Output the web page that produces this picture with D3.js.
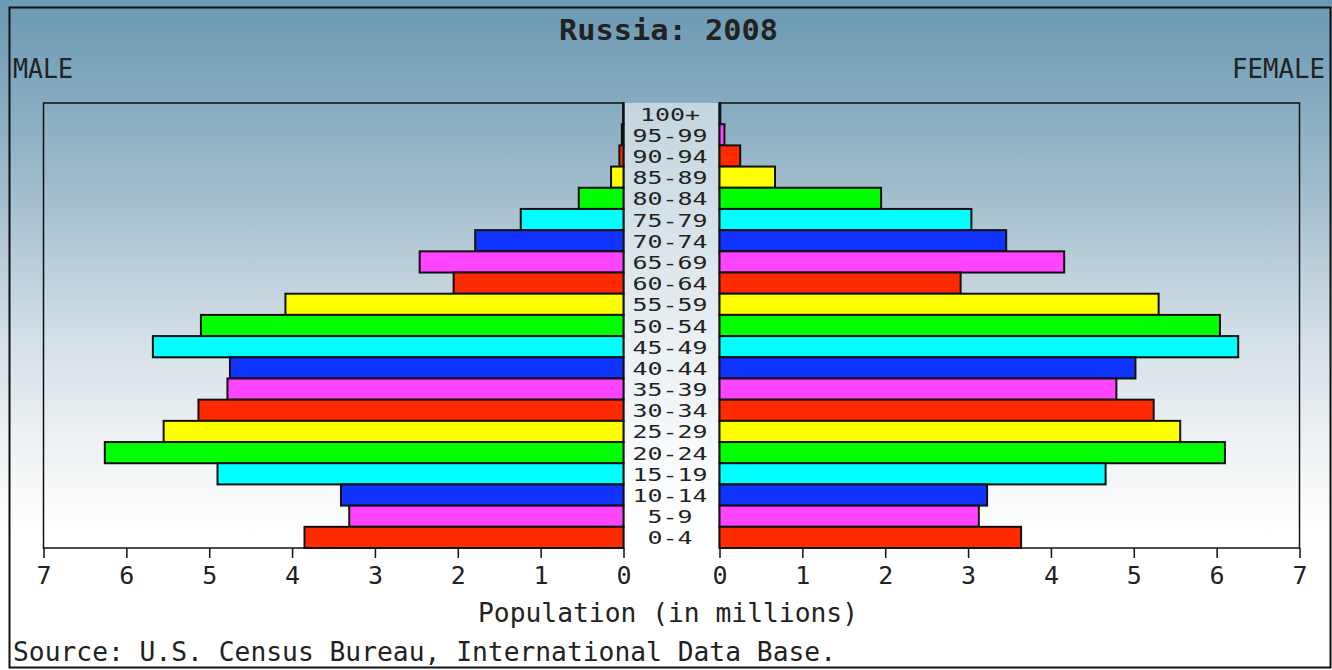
<!DOCTYPE html>
<html>
<head>
<meta charset="utf-8">
<script src="https://cdn.jsdelivr.net/npm/d3@7"></script>
<style>
  html, body { margin: 0; padding: 0; background: #fff; }
  svg { display: block; }
  text { font-family: "DejaVu Sans Mono", "Liberation Mono", monospace; fill: #222; }
</style>
</head>
<body>
<svg id="chart" width="1332" height="670"></svg>
<script>
// ---- data (top to bottom) ----
const ageGroups = ["100+","95-99","90-94","85-89","80-84","75-79","70-74","65-69","60-64","55-59",
  "50-54","45-49","40-44","35-39","30-34","25-29","20-24","15-19","10-14","5-9","0-4"];
const maleValues = [0.005,0.02,0.05,0.15,0.54,1.24,1.79,2.46,2.05,4.08,
  5.10,5.68,4.75,4.78,5.13,5.55,6.26,4.90,3.41,3.31,3.85];
const femaleValues = [0.01,0.06,0.25,0.67,1.95,3.04,3.46,4.16,2.91,5.30,
  6.04,6.26,5.02,4.79,5.24,5.56,6.10,4.66,3.23,3.13,3.64];
const barColors = ["#1133ff","#ff44ff","#ff2a00","#ffff00","#00ff00","#00ffff"]; // cycles from top
const tickValues = [0,1,2,3,4,5,6,7];
const titleText = "Russia: 2008";
const xAxisLabel = "Population (in millions)";
const sourceText = "Source: U.S. Census Bureau, International Data Base.";

const svg = d3.select("#chart");
const W = 1332, H = 670;

// background gradient
const defs = svg.append("defs");
const grad = defs.append("linearGradient").attr("id","bg").attr("x1",0).attr("y1",0).attr("x2",0).attr("y2",1);
[[0,"#6b99b3"],[0.12,"#7fa7bd"],[0.3,"#a5bfce"],[0.5,"#d3dfe6"],[0.68,"#f1f4f6"],[0.8,"#ffffff"],[1,"#ffffff"]]
  .forEach(([o,c]) => grad.append("stop").attr("offset",o).attr("stop-color",c));
svg.append("rect").attr("width",W).attr("height",H).attr("fill","url(#bg)");

// outer border
svg.append("rect").attr("x",9.5).attr("y",7.5).attr("width",1321).attr("height",660)
  .attr("fill","none").attr("stroke","#111").attr("stroke-width",2);

const plotTop = 103, plotBottom = 548;
const xL = d3.scaleLinear().domain([0,7]).range([623.5, 43.5]);
const xR = d3.scaleLinear().domain([0,7]).range([719.5, 1299.5]);
const y = d3.scaleBand().domain(ageGroups).range([plotTop, plotBottom]).padding(0);

// lighter centre column
svg.append("rect").attr("x",625).attr("y",plotTop).attr("width",93).attr("height",plotBottom-plotTop)
  .attr("fill","#ffffff").attr("opacity",0.5);

// frames
svg.append("rect").attr("x",xL(7)).attr("y",plotTop).attr("width",xL(0)-xL(7)).attr("height",plotBottom-plotTop)
  .attr("fill","none").attr("stroke","#111").attr("stroke-width",1.5);
svg.append("rect").attr("x",xR(0)).attr("y",plotTop).attr("width",xR(7)-xR(0)).attr("height",plotBottom-plotTop)
  .attr("fill","none").attr("stroke","#111").attr("stroke-width",1.5);

// bars
const color = (d,i) => barColors[i % barColors.length];
svg.append("g").selectAll("rect").data(maleValues).join("rect")
  .attr("x", d => xL(d)).attr("y", (d,i) => y(ageGroups[i]))
  .attr("width", d => xL(0) - xL(d)).attr("height", y.bandwidth())
  .attr("fill", color).attr("stroke","#111").attr("stroke-width",2);
svg.append("g").selectAll("rect").data(femaleValues).join("rect")
  .attr("x", xR(0)).attr("y", (d,i) => y(ageGroups[i]))
  .attr("width", d => xR(d) - xR(0)).attr("height", y.bandwidth())
  .attr("fill", color).attr("stroke","#111").attr("stroke-width",2);

// age labels
svg.append("g").selectAll("text").data(ageGroups).join("text")
  .attr("x", 670).attr("y", d => y(d) + y.bandwidth()/2 + 7)
  .attr("text-anchor","middle").attr("font-size",18)
  .attr("textLength", d => d.length * 15).attr("lengthAdjust","spacingAndGlyphs")
  .text(d => d);

// axes
function drawAxis(scale) {
  const g = svg.append("g").attr("transform", `translate(0,${plotBottom})`);
  const ax = d3.axisBottom(scale).tickValues(tickValues).tickSize(10).tickPadding(8).tickFormat(d3.format("d"));
  g.call(ax);
  g.select(".domain").remove();
  g.selectAll(".tick line").attr("stroke","#111").attr("stroke-width",1.5);
  g.selectAll(".tick text").attr("font-size",25).attr("font-family","DejaVu Sans Mono").attr("fill","#222");
}
drawAxis(xL);
drawAxis(xR);

// texts
svg.append("text").attr("x",668.5).attr("y",40).attr("text-anchor","middle")
  .attr("font-size",29).attr("font-weight","bold").attr("textLength",219).attr("lengthAdjust","spacingAndGlyphs")
  .text(titleText);
svg.append("text").attr("x",13).attr("y",78).attr("font-size",27)
  .attr("textLength",60).attr("lengthAdjust","spacingAndGlyphs").text("MALE");
svg.append("text").attr("x",1232).attr("y",78).attr("font-size",27)
  .attr("textLength",93).attr("lengthAdjust","spacingAndGlyphs").text("FEMALE");
svg.append("text").attr("x",668).attr("y",622).attr("text-anchor","middle").attr("font-size",26)
  .attr("textLength",380).attr("lengthAdjust","spacingAndGlyphs").text(xAxisLabel);
svg.append("text").attr("x",13).attr("y",661).attr("font-size",26)
  .attr("textLength",823).attr("lengthAdjust","spacingAndGlyphs").text(sourceText);
</script>
</body>
</html>
